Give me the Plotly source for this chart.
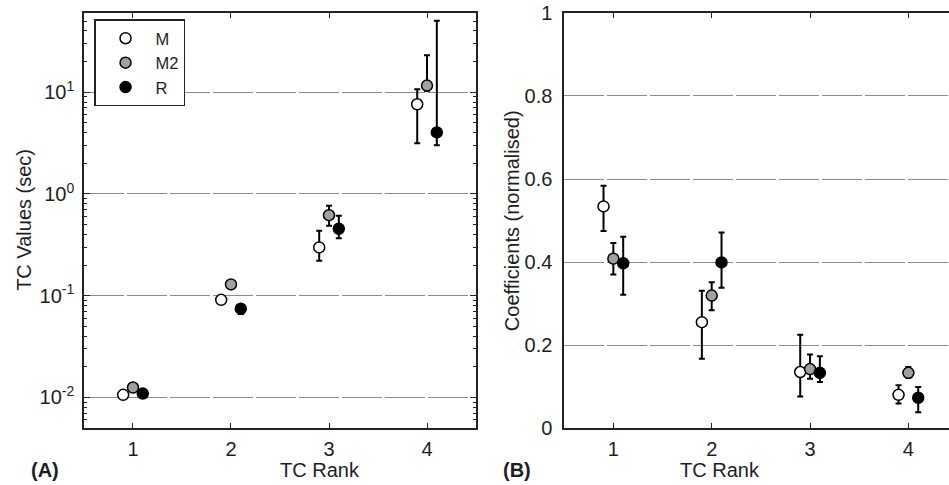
import plotly.graph_objects as go

ranks = [1, 2, 3, 4]
series = ["M", "M2", "R"]
offsets = {"M": -0.1, "M2": 0.0, "R": 0.1}
fills = {"M": "white", "M2": "#a0a0a0", "R": "black"}

# Panel A: TC values (sec), log scale; value, upper bound, lower bound
tc_M = [0.0106, 0.091, 0.298, 7.6]
tc_M_hi = [0.0110, 0.094, 0.434, 10.7]
tc_M_lo = [0.0102, 0.088, 0.220, 3.15]
tc_M2 = [0.0125, 0.129, 0.618, 11.6]
tc_M2_hi = [0.0136, 0.134, 0.764, 23.1]
tc_M2_lo = [0.0116, 0.116, 0.486, 10.3]
tc_R = [0.0109, 0.0743, 0.454, 4.02]
tc_R_hi = [0.0113, 0.078, 0.610, 50.2]
tc_R_lo = [0.0105, 0.066, 0.367, 3.01]

# Panel B: coefficients (normalised)
co_M = [0.534, 0.255, 0.135, 0.080]
co_M_hi = [0.584, 0.331, 0.225, 0.103]
co_M_lo = [0.475, 0.167, 0.076, 0.059]
co_M2 = [0.408, 0.319, 0.142, 0.133]
co_M2_hi = [0.446, 0.351, 0.177, 0.147]
co_M2_lo = [0.370, 0.284, 0.119, 0.121]
co_R = [0.397, 0.399, 0.133, 0.073]
co_R_hi = [0.461, 0.471, 0.173, 0.099]
co_R_lo = [0.321, 0.338, 0.111, 0.038]

tc = {"M": (tc_M, tc_M_hi, tc_M_lo), "M2": (tc_M2, tc_M2_hi, tc_M2_lo), "R": (tc_R, tc_R_hi, tc_R_lo)}
co = {"M": (co_M, co_M_hi, co_M_lo), "M2": (co_M2, co_M2_hi, co_M2_lo), "R": (co_R, co_R_hi, co_R_lo)}

log_ticks = [0.01, 0.1, 1, 10]
log_ticktext = ["10<sup>-2</sup>", "10<sup>-1</sup>", "10<sup>0</sup>", "10<sup>1</sup>"]
lin_ticks = [0, 0.2, 0.4, 0.6, 0.8, 1]
lin_ticktext = ["0", "0.2", "0.4", "0.6", "0.8", "1"]

FONT = "Liberation Sans, Arial, Helvetica, sans-serif"
TXT = "#1e1e1e"
GRID = "#8c8c8c"

fig = go.Figure()
for s in series:
    v, hi, lo = tc[s]
    fig.add_trace(go.Scatter(
        x=[r + offsets[s] for r in ranks], y=v, mode="markers", name=s,
        xaxis="x", yaxis="y",
        marker=dict(size=11, color=fills[s], line=dict(color="black", width=1.5)),
        error_y=dict(type="data", symmetric=False,
                     array=[h - a for h, a in zip(hi, v)],
                     arrayminus=[a - l for a, l in zip(v, lo)],
                     color="black", thickness=2, width=3),
    ))
for s in series:
    v, hi, lo = co[s]
    fig.add_trace(go.Scatter(
        x=[r + offsets[s] for r in ranks], y=v, mode="markers", name=s,
        xaxis="x2", yaxis="y2", showlegend=False,
        marker=dict(size=11, color=fills[s], line=dict(color="black", width=1.5)),
        error_y=dict(type="data", symmetric=False,
                     array=[h - a for h, a in zip(hi, v)],
                     arrayminus=[a - l for a, l in zip(v, lo)],
                     color="black", thickness=2, width=3),
    ))

minor_vals = [k * 10 ** e for e in range(-3, 2) for k in range(2, 10)]

axis_common = dict(showline=True, linecolor="#222", linewidth=1.5, ticks="inside",
                   tickcolor="#222", zeroline=False, automargin=False,
                   tickfont=dict(family=FONT, size=20, color=TXT))

fig.update_layout(
    template="none",
    width=949, height=485,
    margin=dict(l=0, r=0, t=0, b=0, autoexpand=False),
    paper_bgcolor="white", plot_bgcolor="white",
    font=dict(family=FONT, color=TXT, size=20),
    xaxis=dict(domain=[0.0885, 0.5016], range=[0.5, 4.5], tickvals=ranks,
               mirror="allticks", ticklen=5, showgrid=False, anchor="y",
               ticklabelstandoff=2, **axis_common),
    yaxis=dict(domain=[0.1175, 0.9732], type="log", range=[-2.301, 1.778],
               tickvals=log_ticks, ticktext=log_ticktext, mirror="allticks", ticklen=6,
               showgrid=True, gridcolor=GRID, gridwidth=1, griddash="40px,3px",
               minor=dict(tickvals=minor_vals, ticks="inside", ticklen=3, tickcolor="#222",
                          showgrid=False),
               ticklabelstandoff=4, anchor="x", **axis_common),
    xaxis2=dict(domain=[0.5945, 1.0], range=[0.5, 4.413], tickvals=ranks,
                mirror="ticks", ticklen=5, showgrid=False, anchor="y2",
                ticklabelstandoff=2, **axis_common),
    yaxis2=dict(domain=[0.1175, 0.9732], range=[0, 1], tickvals=lin_ticks,
                ticktext=lin_ticktext, ticklen=0, showgrid=True,
                gridcolor=GRID, gridwidth=1, griddash="40px,3px",
                ticklabelstandoff=6, anchor="x2", **axis_common),
    legend=dict(x=0.0991, y=0.9598, xanchor="left", yanchor="top",
                bordercolor="#222", borderwidth=1.5, bgcolor="white",
                font=dict(family=FONT, size=16.5, color=TXT),
                tracegroupgap=0, itemwidth=50, entrywidth=60),
    showlegend=True,
)

annotations = [
    dict(text="TC Rank", x=0.293, y=0.031, xref="paper", yref="paper", showarrow=False,
         yanchor="middle", font=dict(size=20)),
    dict(text="TC Rank", x=0.803, y=0.031, xref="paper", yref="paper", showarrow=False,
         yanchor="middle", font=dict(size=20)),
    dict(text="TC Values (sec)", x=0.026, y=0.546, xref="paper", yref="paper", showarrow=False,
         xanchor="center", yanchor="middle", textangle=-90, font=dict(size=20)),
    dict(text="Coefficients (normalised)", x=0.5395, y=0.546, xref="paper", yref="paper",
         xanchor="center", yanchor="middle", showarrow=False, textangle=-90,
         font=dict(size=20)),
    dict(text="<b>(A)</b>", x=0.031, y=0.031, xref="paper", yref="paper", showarrow=False,
         yanchor="middle", font=dict(size=20)),
    dict(text="<b>(B)</b>", x=0.545, y=0.031, xref="paper", yref="paper", showarrow=False,
         yanchor="middle", font=dict(size=20)),
]
fig.update_layout(annotations=annotations)

fig.write_html("out.html")
